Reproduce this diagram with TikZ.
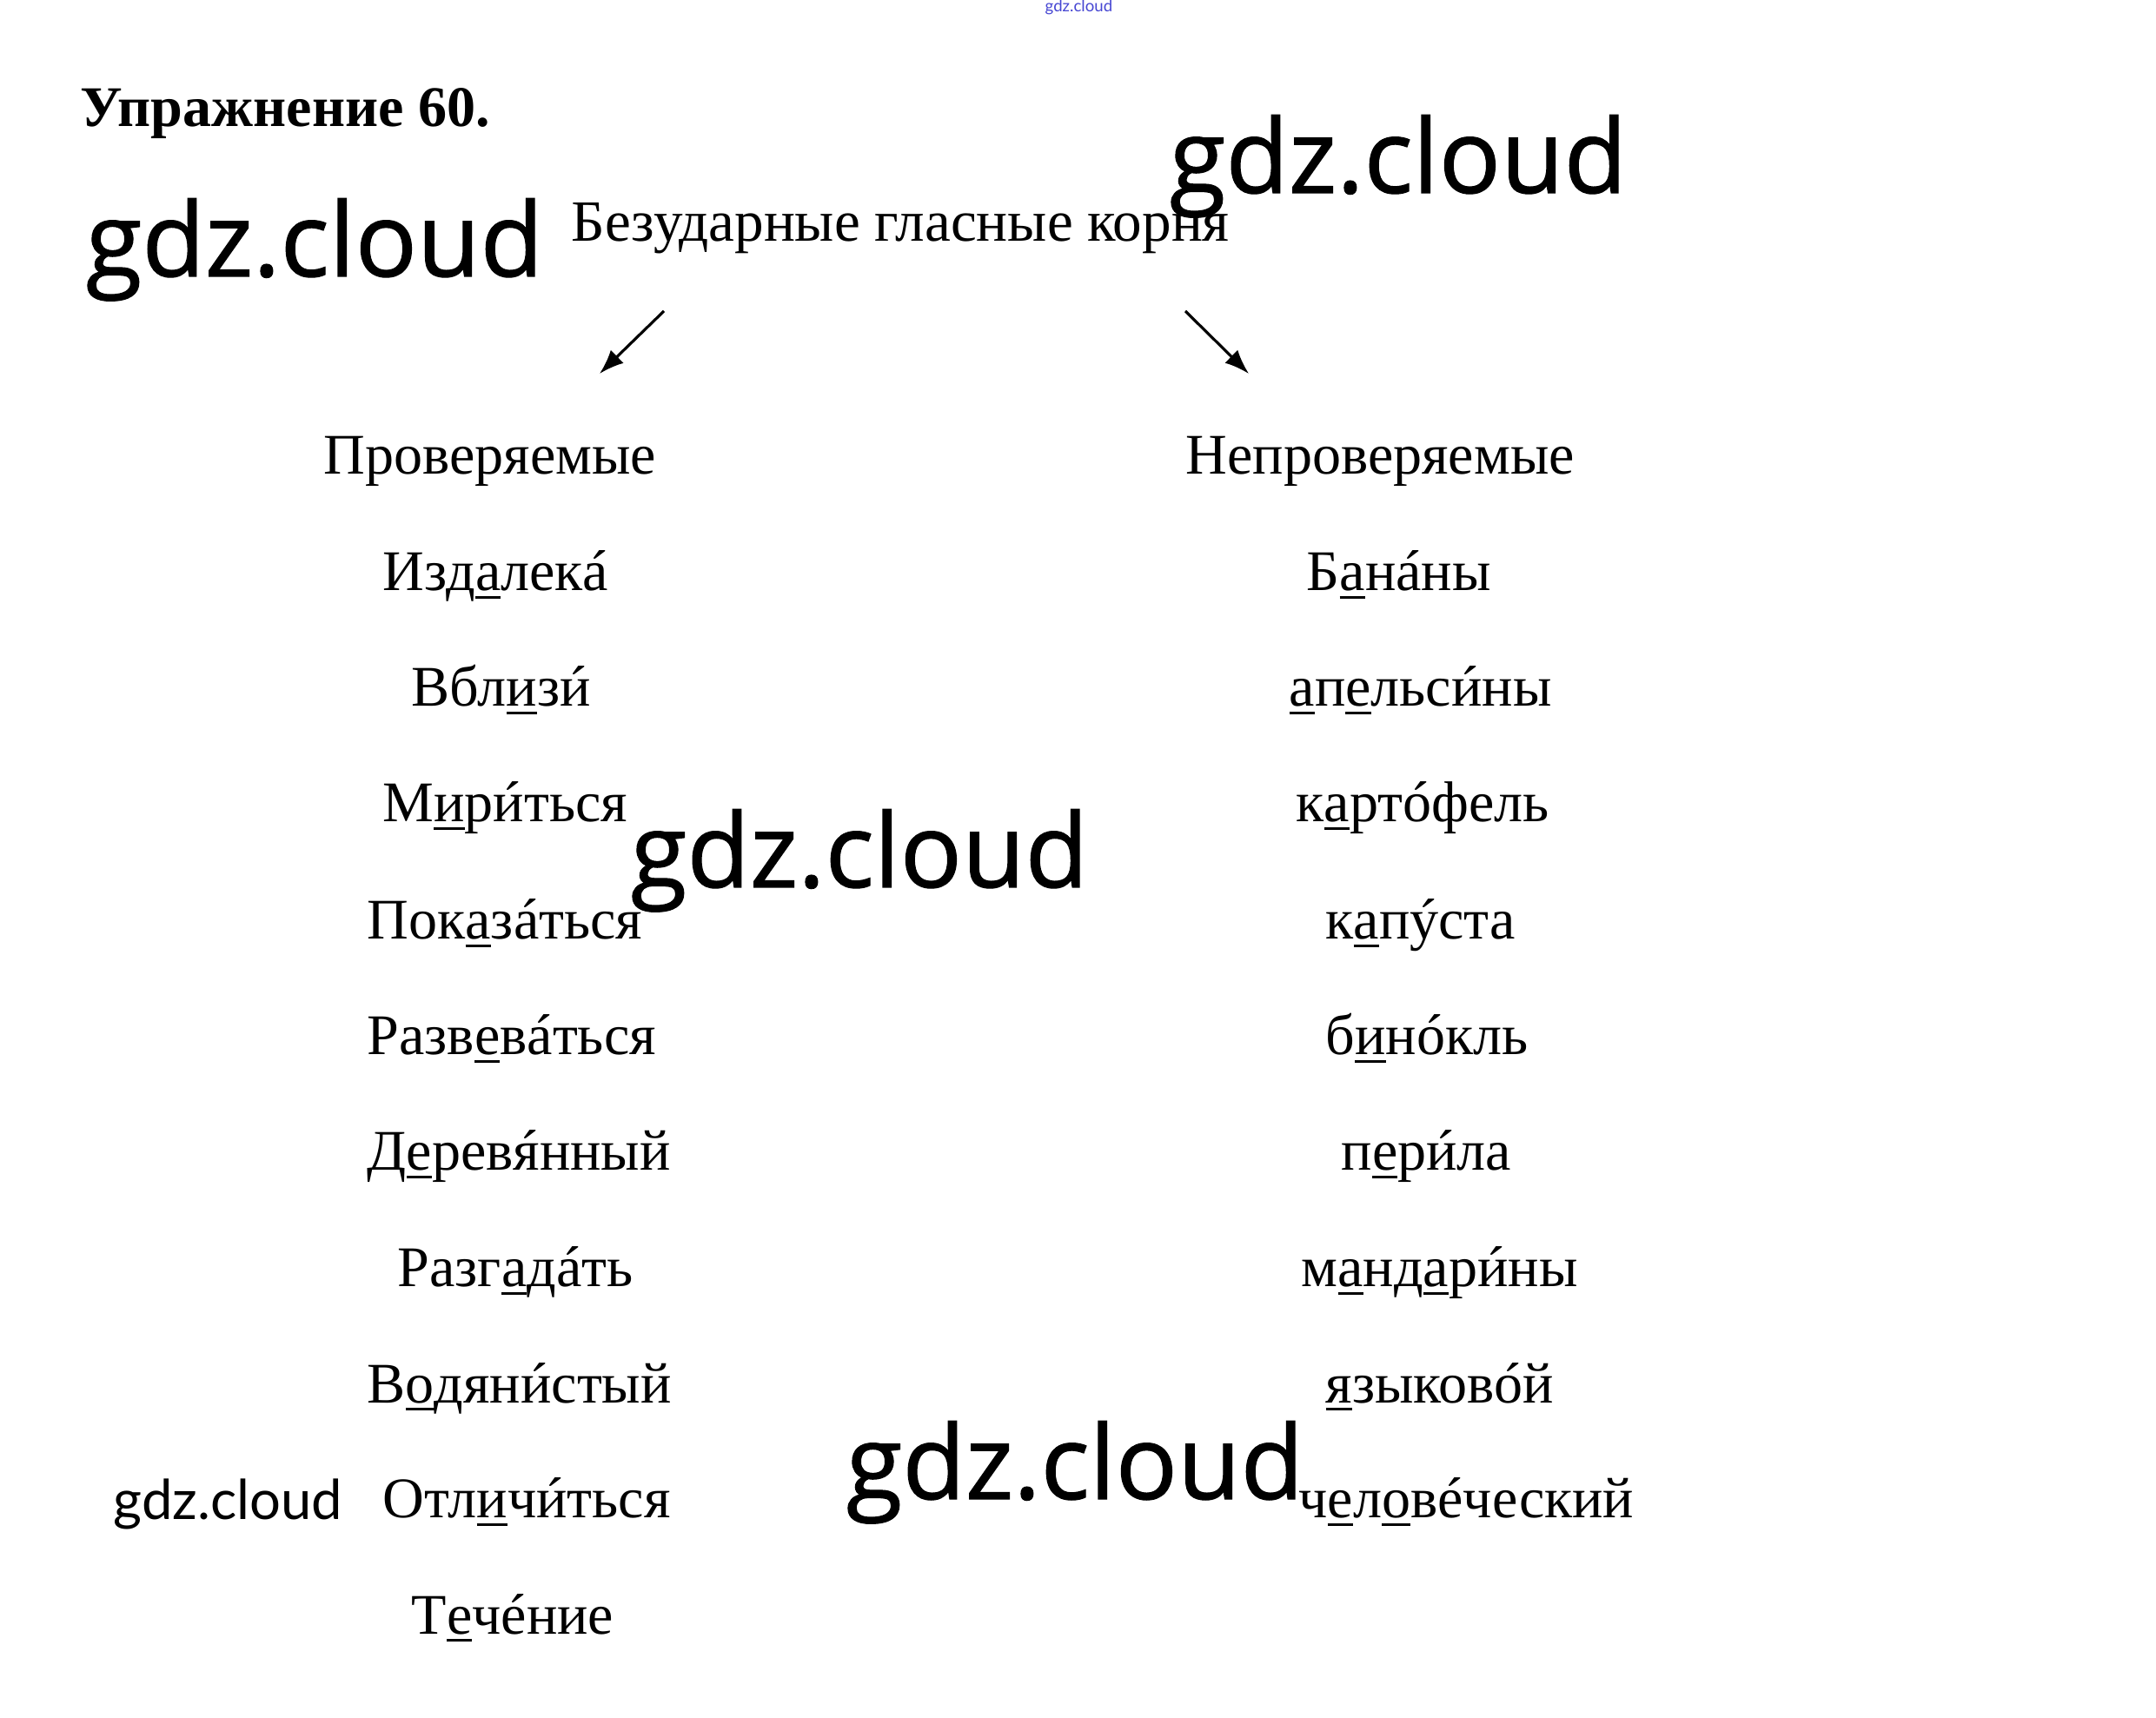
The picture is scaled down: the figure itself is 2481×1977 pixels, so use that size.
\documentclass[tikz,border=0pt]{standalone}
\usepackage{fontspec}
\setmainfont{Liberation Serif}
\newfontfamily\wmfont[FakeBold=1]{Open Sans}
\newfontfamily\wmsmall{Lato}
\usetikzlibrary{arrows.meta}
\newcommand\und[1]{\setbox0\hbox{#1}\rlap{\rule[-0.14em]{\wd0}{0.055em}}\box0}
\newcommand\acc[1]{\leavevmode\setbox2\hbox{#1}\rlap{\hbox to\wd2{\hss\kern0.12em\char"00B4\hss}}\box2}
\tikzset{
  word/.style={anchor=base west, inner sep=0pt, font=\fontsize{18.8}{20}\selectfont},
  wm/.style={anchor=base west, inner sep=0pt, font=\wmfont\fontsize{33.6}{36}\selectfont},
  arr/.style={line width=0.9pt, -{Latex[length=8pt,width=6pt]}}
}
\begin{document}
\begin{tikzpicture}[x=0.01cm,y=-0.01cm]
\useasboundingbox (0,0) rectangle (2481,1977);
\node[anchor=base west, inner sep=0pt, text={rgb,255:red,70;green,70;blue,210}, font=\wmsmall\fontsize{5.3}{6}\selectfont] (top) at (1202,14) {gdz.cloud};
\node[anchor=base west, inner sep=0pt, font=\bfseries\fontsize{18.8}{20}\selectfont] (title) at (92,146) {Упражнение 60.};
\node[word, font=\fontsize{19.1}{20}\selectfont] (sub) at (657,278) {Безударные гласные корня};
\coordinate (l1) at (764,358); \coordinate (l2) at (690,430);
\coordinate (r1) at (1364,358); \coordinate (r2) at (1437,430);
\draw[arr] (l1) -- (l2);
\draw[arr] (r1) -- (r2);
% left column
\node[word] (L0) at (372,546) {Проверяемые};
\node[word] (L1) at (440,680) {Изд\und{а}лек\acc{а}};
\node[word] (L2) at (473,813) {Вбл\und{и}з\acc{и}};
\node[word] (L3) at (440,946) {М\und{и}р\acc{и}ться};
\node[word] (L4) at (422,1081) {Пок\und{а}з\acc{а}ться};
\node[word] (L5) at (422,1214) {Разв\und{е}в\acc{а}ться};
\node[word] (L6) at (422,1347) {Д\und{е}рев\acc{я}нный};
\node[word] (L7) at (457,1481) {Разг\und{а}д\acc{а}ть};
\node[word] (L8) at (422,1614) {В\und{о}дян\acc{и}стый};
\node[word] (L9) at (440,1747) {Отл\und{и}ч\acc{и}ться};
\node[word] (L10) at (473,1880) {Т\und{е}ч\acc{е}ние};
% right column
\node[word] (R0) at (1364,546) {Непроверяемые};
\node[word] (R1) at (1503,680) {Б\und{а}н\acc{а}ны};
\node[word] (R2) at (1483,813) {\und{а}п\und{е}льс\acc{и}ны};
\node[word] (R3) at (1491,946) {к\und{а}рт\acc{о}фель};
\node[word] (R4) at (1525,1081) {к\und{а}п\acc{у}ста};
\node[word] (R5) at (1525,1214) {б\und{и}н\acc{о}кль};
\node[word] (R6) at (1543,1347) {п\und{е}р\acc{и}ла};
\node[word] (R7) at (1497,1481) {м\und{а}нд\und{а}р\acc{и}ны};
\node[word] (R8) at (1525,1614) {\und{я}зыков\acc{о}й};
\node[word] (R9) at (1494,1747) {ч\und{е}л\und{о}в\acc{е}ческий};
% watermarks
\node[wm] (w1) at (98,318) {gdz.cloud};
\node[wm] (w2) at (1345,222) {gdz.cloud};
\node[wm] (w3) at (725,1021) {gdz.cloud};
\node[wm] (w4) at (973,1725) {gdz.cloud};
\node[anchor=base west, inner sep=0pt, font=\wmsmall\fontsize{18}{20}\selectfont] (w5) at (130,1748) {gdz.cloud};
\end{tikzpicture}
\end{document}
